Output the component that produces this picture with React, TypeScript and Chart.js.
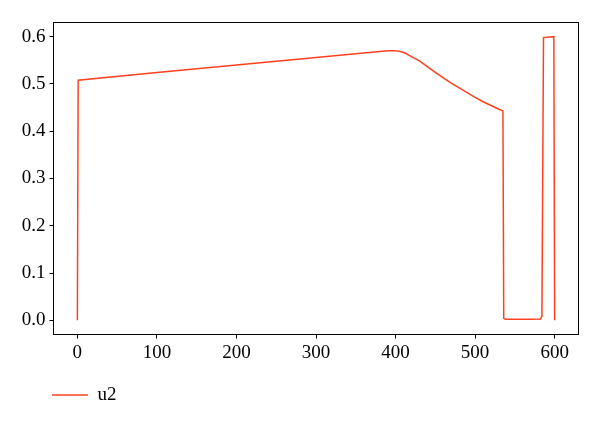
import React, { useEffect, useRef } from "react";
import { Chart, registerables } from "chart.js";

Chart.register(...registerables);

const xValues = [0, 1, 100, 200, 300, 380, 390, 398, 405, 412, 420, 430, 440, 450, 460, 470, 480, 490, 500, 510, 520, 530, 535, 536, 538, 550, 570, 582, 584, 586, 599, 600];
const u2Values = [0, 0.508, 0.524, 0.54, 0.556, 0.5685, 0.57, 0.5705, 0.569, 0.5655, 0.558, 0.549, 0.5365, 0.5245, 0.5127, 0.502, 0.4918, 0.4818, 0.4718, 0.4623, 0.4544, 0.4466, 0.443, 0.004, 0.002, 0.002, 0.002, 0.003, 0.008, 0.598, 0.6, 0];
const xTicks = [0, 100, 200, 300, 400, 500, 600];
const yTicks = [0, 0.1, 0.2, 0.3, 0.4, 0.5, 0.6];
const seriesName = "u2";

const FONT = "'Liberation Serif', 'DejaVu Serif', serif";
const LINE_COLOR = "#ff4020";

const framePlugin = {
  id: "frame",
  afterLayout(chart: any) {
    if (chart.legend) chart.legend.left = 42;
  },
  afterDatasetsDraw(chart: any) {
    const { ctx, chartArea } = chart;
    ctx.save();
    ctx.strokeStyle = "#000";
    ctx.lineWidth = 1;
    ctx.strokeRect(chartArea.left, chartArea.top, chartArea.right - chartArea.left, chartArea.bottom - chartArea.top);
    ctx.restore();
  },
};

export default function App() {
  const ref = useRef<HTMLCanvasElement | null>(null);
  useEffect(() => {
    if (!ref.current) return;
    const chart = new Chart(ref.current, {
      type: "line",
      data: {
        datasets: [
          {
            label: seriesName,
            data: xValues.map((x, i) => ({ x, y: u2Values[i] })),
            borderColor: LINE_COLOR,
            backgroundColor: LINE_COLOR,
            borderWidth: 1.5,
            pointRadius: 0,
            tension: 0,
            fill: false,
          },
        ],
      },
      options: {
        animation: false,
        responsive: false,
        devicePixelRatio: 1,
        layout: { padding: { left: 0, right: 21.5, top: 22.5, bottom: 6.5 } },
        plugins: {
          tooltip: { enabled: false },
          legend: {
            display: true,
            position: "bottom",
            align: "start",
            labels: {
              usePointStyle: true,
              pointStyle: "line",
              pointStyleWidth: 36,
              padding: 10,
              color: "#000",
              font: { family: FONT, size: 19 },
            },
          },
        },
        scales: {
          x: {
            type: "linear",
            min: -30,
            max: 630,
            afterFit: (axis: any) => {
              axis.height = 41;
            },
            afterBuildTicks: (axis: any) => {
              axis.ticks = xTicks.map((v) => ({ value: v }));
            },
            grid: { drawOnChartArea: false, drawTicks: true, tickLength: 4, color: "#000", lineWidth: 1 },
            border: { display: false },
            ticks: {
              color: "#000",
              padding: 3,
              maxRotation: 0,
              font: { family: FONT, size: 19 },
              callback: (v: any) => String(v),
            },
          },
          y: {
            type: "linear",
            min: -0.03,
            max: 0.63,
            afterFit: (axis: any) => {
              axis.width = 53.5;
            },
            afterBuildTicks: (axis: any) => {
              axis.ticks = yTicks.map((v) => ({ value: v }));
            },
            grid: { drawOnChartArea: false, drawTicks: true, tickLength: 4, color: "#000", lineWidth: 1 },
            border: { display: false },
            ticks: {
              color: "#000",
              padding: 4,
              font: { family: FONT, size: 19 },
              callback: (v: any) => Number(v).toFixed(1),
            },
          },
        },
      },
      plugins: [framePlugin],
    });
    return () => chart.destroy();
  }, []);
  return (
    <div style={{ position: "fixed", left: 0, top: 0, width: 600, height: 421, background: "#fff" }}>
      <canvas ref={ref} width={600} height={421} style={{ display: "block" }} />
    </div>
  );
}
